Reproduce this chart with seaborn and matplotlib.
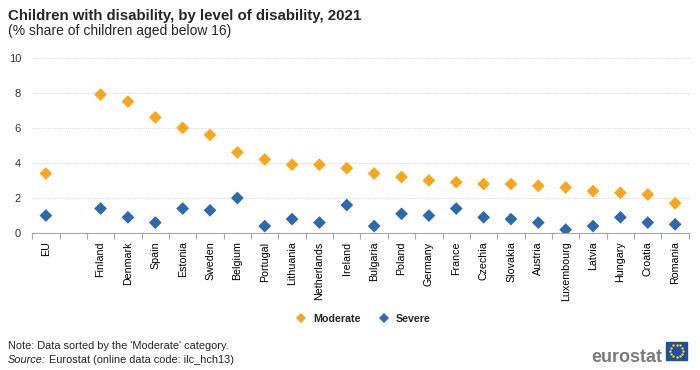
import numpy as np
import pandas as pd
import seaborn as sns
import matplotlib.pyplot as plt
from matplotlib.patches import Rectangle
from matplotlib.ticker import MultipleLocator, FixedLocator

sns.set_style("white")
plt.rcParams['font.family'] = ['Liberation Sans', 'DejaVu Sans']

# data (sorted by 'Moderate'), blank slot after EU
countries = ['EU', ' ', 'Finland', 'Denmark', 'Spain', 'Estonia', 'Sweden', 'Belgium',
             'Portugal', 'Lithuania', 'Netherlands', 'Ireland', 'Bulgaria', 'Poland',
             'Germany', 'France', 'Czechia', 'Slovakia', 'Austria', 'Luxembourg',
             'Latvia', 'Hungary', 'Croatia', 'Romania']
moderate = [3.4, None, 7.9, 7.5, 6.6, 6.0, 5.6, 4.6, 4.2, 3.9, 3.9, 3.7, 3.4, 3.2,
            3.0, 2.9, 2.8, 2.8, 2.7, 2.6, 2.4, 2.3, 2.2, 1.7]
severe = [1.0, None, 1.4, 0.9, 0.6, 1.4, 1.3, 2.0, 0.4, 0.8, 0.6, 1.6, 0.4, 1.1,
          1.0, 1.4, 0.9, 0.8, 0.6, 0.2, 0.4, 0.9, 0.6, 0.5]

df = pd.DataFrame({'Country': countries, 'Moderate': moderate, 'Severe': severe})
df = df.melt(id_vars='Country', var_name='Level', value_name='Value').dropna()

fig = plt.figure(figsize=(7, 3.7), dpi=100)
ax = fig.add_axes([0.046, 0.370, 0.938, 0.474])

sns.stripplot(data=df, x='Country', y='Value', hue='Level', order=countries,
              hue_order=['Moderate', 'Severe'], palette=['#FAA61A', '#2D69AE'],
              jitter=False, dodge=False, marker='D', size=6.5, linewidth=0, ax=ax)

ax.set_xlim(-0.5, len(countries) - 0.5)
ax.set_ylim(0, 10)
ax.yaxis.set_major_locator(MultipleLocator(2))
ax.grid(axis='y', color='#d9d9d9', linestyle=(0, (1, 1)), linewidth=0.8)
ax.set_axisbelow(True)
for s in ['top', 'right', 'left']:
    ax.spines[s].set_visible(False)
ax.spines['bottom'].set_color('#a6a6a6')
ax.tick_params(axis='y', length=0, labelsize=8, colors='#333333', pad=8)
ax.tick_params(axis='x', which='major', bottom=False, length=0, labelsize=7.7,
               colors='#000000', labelrotation=90, pad=6)
ax.xaxis.set_minor_locator(FixedLocator(np.arange(-0.5, len(countries), 1)))
ax.tick_params(axis='x', which='minor', bottom=True, length=4, width=0.8, color='#a6a6a6')
ax.set_xlabel('')
ax.set_ylabel('')

ax.legend(loc='upper center', bbox_to_anchor=(0.5, -0.405), ncol=2, frameon=False,
          prop={'weight': 'bold', 'size': 7.7}, handletextpad=0.1, columnspacing=1.2,
          markerscale=0.8)

fig.text(0.011, 0.945, 'Children with disability, by level of disability, 2021',
         fontsize=10.8, fontweight='bold')
fig.text(0.011, 0.897, '(% share of children aged below 16)', fontsize=10, va='bottom')
fig.text(0.011, 0.058, "Note: Data sorted by the 'Moderate' category.", fontsize=7.9)
fig.text(0.011, 0.018, 'Source:', fontsize=7.9, style='italic')
fig.text(0.066, 0.018, ' Eurostat (online data code: ilc_hch13)', fontsize=7.9)

# eurostat logo
fig.text(0.845, 0.022, 'eurostat', fontsize=13, color='#7a7a7a', fontweight='bold')
fig.patches.append(Rectangle((0.951, 0.028), 0.031, 0.047, transform=fig.transFigure,
                             color='#1f4fa0'))
th = np.linspace(0, 2 * np.pi, 12, endpoint=False)
fig.add_artist(plt.Line2D(0.9665 + 0.009 * np.cos(th), 0.0515 + 0.017 * np.sin(th),
                          transform=fig.transFigure, linestyle='none', marker='.',
                          markersize=1.5, color='#ffd200'))

fig.savefig('out.png', dpi=100)
